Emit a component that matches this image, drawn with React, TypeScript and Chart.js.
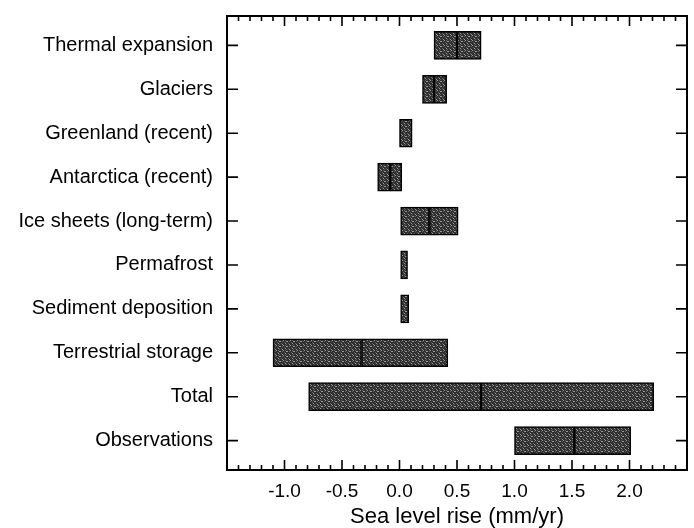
import React, { useEffect, useRef } from "react";
import { Chart, registerables } from "chart.js";

Chart.register(...registerables);

const categories = [
  "Thermal expansion",
  "Glaciers",
  "Greenland (recent)",
  "Antarctica (recent)",
  "Ice sheets (long-term)",
  "Permafrost",
  "Sediment deposition",
  "Terrestrial storage",
  "Total",
  "Observations",
];
const lowValues = [0.3, 0.2, 0.0, -0.19, 0.01, 0.01, 0.01, -1.1, -0.79, 1.0];
const midValues: (number | null)[] = [0.5, 0.3, null, -0.08, 0.26, null, null, -0.33, 0.71, 1.52];
const highValues = [0.71, 0.41, 0.11, 0.02, 0.51, 0.07, 0.08, 0.42, 2.21, 2.01];
const xTickValues = [-1.0, -0.5, 0.0, 0.5, 1.0, 1.5, 2.0];

function makePattern(): CanvasPattern | string {
  const c = document.createElement("canvas");
  c.width = 7;
  c.height = 5;
  const g = c.getContext("2d");
  if (!g) return "#333";
  g.fillStyle = "#2e2e2e";
  g.fillRect(0, 0, 7, 5);
  g.fillStyle = "#9a9a9a";
  [[0, 1], [3, 0], [5, 3], [2, 4], [6, 1]].forEach(([x, y]) => g.fillRect(x, y, 1, 1));
  g.fillStyle = "#606060";
  [[1, 3], [4, 2], [6, 4], [2, 1], [5, 0]].forEach(([x, y]) => g.fillRect(x, y, 1, 1));
  const p = g.createPattern(c, "repeat");
  return p || "#333";
}

const frameTicks = {
  id: "frameTicks",
  afterDraw(chart: any) {
    const { ctx, chartArea } = chart;
    const xs = chart.scales.x;
    const ys = chart.scales.y;
    const { left, right, top, bottom } = chartArea;
    ctx.save();
    ctx.strokeStyle = "#000";
    ctx.lineWidth = 2;
    ctx.strokeRect(left, top, right - left, bottom - top);
    ctx.lineWidth = 1.6;
    ctx.beginPath();
    for (let k = -15; k <= 25; k++) {
      const px = xs.getPixelForValue(k / 10);
      const len = k % 5 === 0 ? 10 : 5;
      ctx.moveTo(px, bottom);
      ctx.lineTo(px, bottom - len);
      ctx.moveTo(px, top);
      ctx.lineTo(px, top + len);
    }
    categories.forEach((_, i) => {
      const py = ys.getPixelForValue(i);
      ctx.moveTo(left, py);
      ctx.lineTo(left + 11, py);
      ctx.moveTo(right, py);
      ctx.lineTo(right - 11, py);
    });
    ctx.stroke();
    ctx.restore();
  },
};

export default function App() {
  const ref = useRef<HTMLCanvasElement | null>(null);

  useEffect(() => {
    if (!ref.current) return;
    const fill = makePattern();
    const first = categories.map((_, i) => ({
      y: i,
      x: [lowValues[i], midValues[i] ?? highValues[i]],
    }));
    const second = categories.map((_, i) => ({
      y: i,
      x: midValues[i] === null ? null : [midValues[i], highValues[i]],
    }));
    const font = "'Liberation Sans', Arial, Helvetica, sans-serif";
    const chart = new Chart(ref.current, {
      type: "bar",
      data: {
        datasets: [
          {
            data: first as any,
            backgroundColor: fill as any,
            borderColor: "#000",
            borderWidth: 1.5,
            borderSkipped: false,
            barThickness: 28,
            grouped: false,
          },
          {
            data: second as any,
            backgroundColor: fill as any,
            borderColor: "#000",
            borderWidth: 1.5,
            borderSkipped: false,
            barThickness: 28,
            grouped: false,
          },
        ],
      },
      options: {
        indexAxis: "y",
        animation: false,
        responsive: false,
        layout: { padding: { left: 0, top: 16, right: 7, bottom: 0 } },
        plugins: { legend: { display: false }, tooltip: { enabled: false } },
        scales: {
          x: {
            type: "linear",
            position: "bottom",
            min: -1.5,
            max: 2.5,
            offset: false,
            grid: { display: false, drawTicks: false },
            border: { display: false },
            ticks: {
              stepSize: 0.5,
              includeBounds: false,
              autoSkip: false,
              maxRotation: 0,
              padding: 10,
              color: "#000",
              font: { family: font, size: 19 },
              callback: (v: any) =>
                xTickValues.some((t) => Math.abs(t - Number(v)) < 1e-6) ? Number(v).toFixed(1) : "",
            },
            title: {
              display: true,
              text: "Sea level rise (mm/yr)",
              color: "#000",
              font: { family: font, size: 22, lineHeight: 1 },
              padding: { top: 0, bottom: 0 },
            },
            afterFit: (s: any) => {
              s.height = 58;
              s.paddingLeft = 0;
              s.paddingRight = 0;
            },
          },
          y: {
            type: "linear",
            min: -0.67,
            max: 9.67,
            reverse: true,
            offset: false,
            grid: { display: false, drawTicks: false },
            border: { display: false },
            afterBuildTicks: (s: any) => {
              s.ticks = categories.map((_, i) => ({ value: i }));
            },
            ticks: {
              autoSkip: false,
              padding: 14,
              color: "#000",
              font: { family: font, size: 20 },
              callback: (v: any) => categories[Number(v)] ?? "",
            },
            afterFit: (s: any) => {
              s.width = 227;
              s.paddingTop = 0;
              s.paddingBottom = 0;
            },
          },
        },
      },
      plugins: [frameTicks],
    });
    return () => chart.destroy();
  }, []);

  return (
    <div style={{ position: "fixed", left: 0, top: 0, width: 694, height: 528, background: "#fff" }}>
      <canvas ref={ref} width={694} height={528} style={{ display: "block" }} />
    </div>
  );
}
